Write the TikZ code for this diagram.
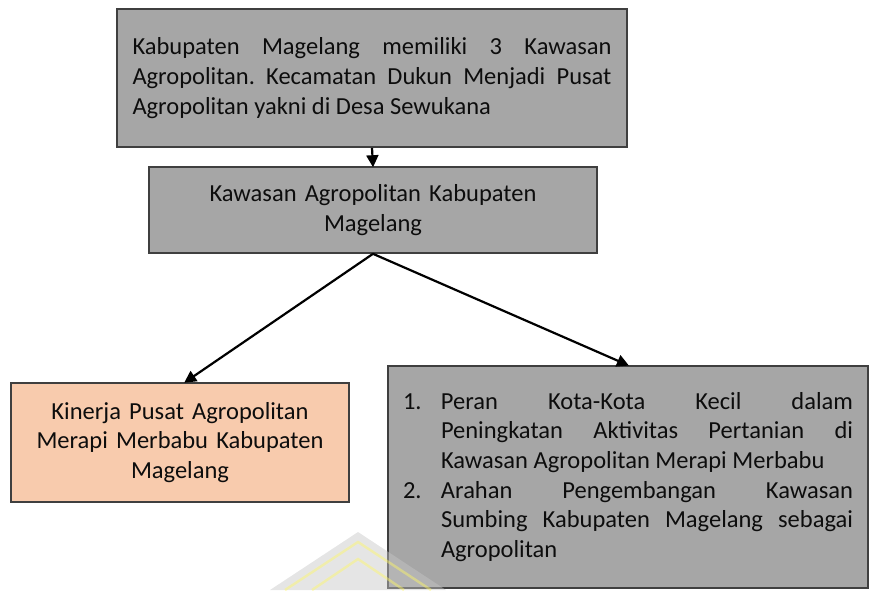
\documentclass[tikz,border=0pt]{standalone}
\usepackage{fontspec}
\setmainfont{Carlito}
\usetikzlibrary{arrows.meta}
\definecolor{boxgray}{HTML}{A6A6A6}
\definecolor{boxline}{HTML}{3F3F3F}
\definecolor{peach}{HTML}{F8CBAD}
\definecolor{txt}{HTML}{0D0D0D}
\tikzset{
  box/.style={draw=boxline, line width=1.6pt, fill=boxgray, inner sep=0pt, text=txt,
    font=\fontsize{24.5}{29.7}\selectfont},
  conn/.style={line width=2.2pt, -{Triangle[length=12pt,width=12pt]}, shorten >=-1pt},
}
\begin{document}
\frenchspacing
\begin{tikzpicture}[x=1pt,y=-1pt]
\useasboundingbox (0,0) rectangle (870,590);
\node[box, minimum width=510pt, minimum height=138pt, text width=479pt, align=justify] (top) at (372,78)
 {\hyphenpenalty=10000 Kabupaten Magelang memiliki 3 Kawasan\linebreak Agropolitan. Kecamatan Dukun Menjadi Pusat\linebreak Agropolitan yakni di Desa Sewukana};
\node[box, minimum width=448pt, minimum height=86pt, text width=420pt, align=center] (mid) at (373,210)
 {Kawasan Agropolitan Kabupaten\\Magelang};
\node[box, fill=peach, minimum width=338pt, minimum height=119pt, text width=330pt, align=center] (left) at (180,442.5)
 {Kinerja Pusat Agropolitan\\Merapi Merbabu Kabupaten\\Magelang};
\node[box, minimum width=480pt, minimum height=222pt, text width=450pt, align=justify] (right) at (628,477)
 {\hyphenpenalty=10000
  \hangindent=38pt\hangafter=1\noindent\makebox[38pt][l]{1.}Peran Kota-Kota Kecil dalam\linebreak Peningkatan Aktivitas Pertanian di\linebreak Kawasan Agropolitan Merapi Merbabu\par
  \hangindent=38pt\hangafter=1\noindent\makebox[38pt][l]{2.}Arahan Pengembangan Kawasan\linebreak Sumbing Kabupaten Magelang sebagai\linebreak Agropolitan\par};
\draw[conn] (top.south) -- (mid.north);
\draw[conn] (mid.south) -- ([xshift=5pt]left.north);
\draw[conn] (mid.south) -- (right.north);
% faint watermark
\begin{scope}[opacity=0.45]
\fill[gray!45] (358,532) -- (446,590) -- (270,590) -- cycle;
\draw[yellow!60, line width=2.5pt] (285,590) -- (358,542) -- (431,590);
\draw[yellow!60, line width=2.5pt] (312,590) -- (358,559) -- (404,590);
\end{scope}
\end{tikzpicture}
\end{document}
